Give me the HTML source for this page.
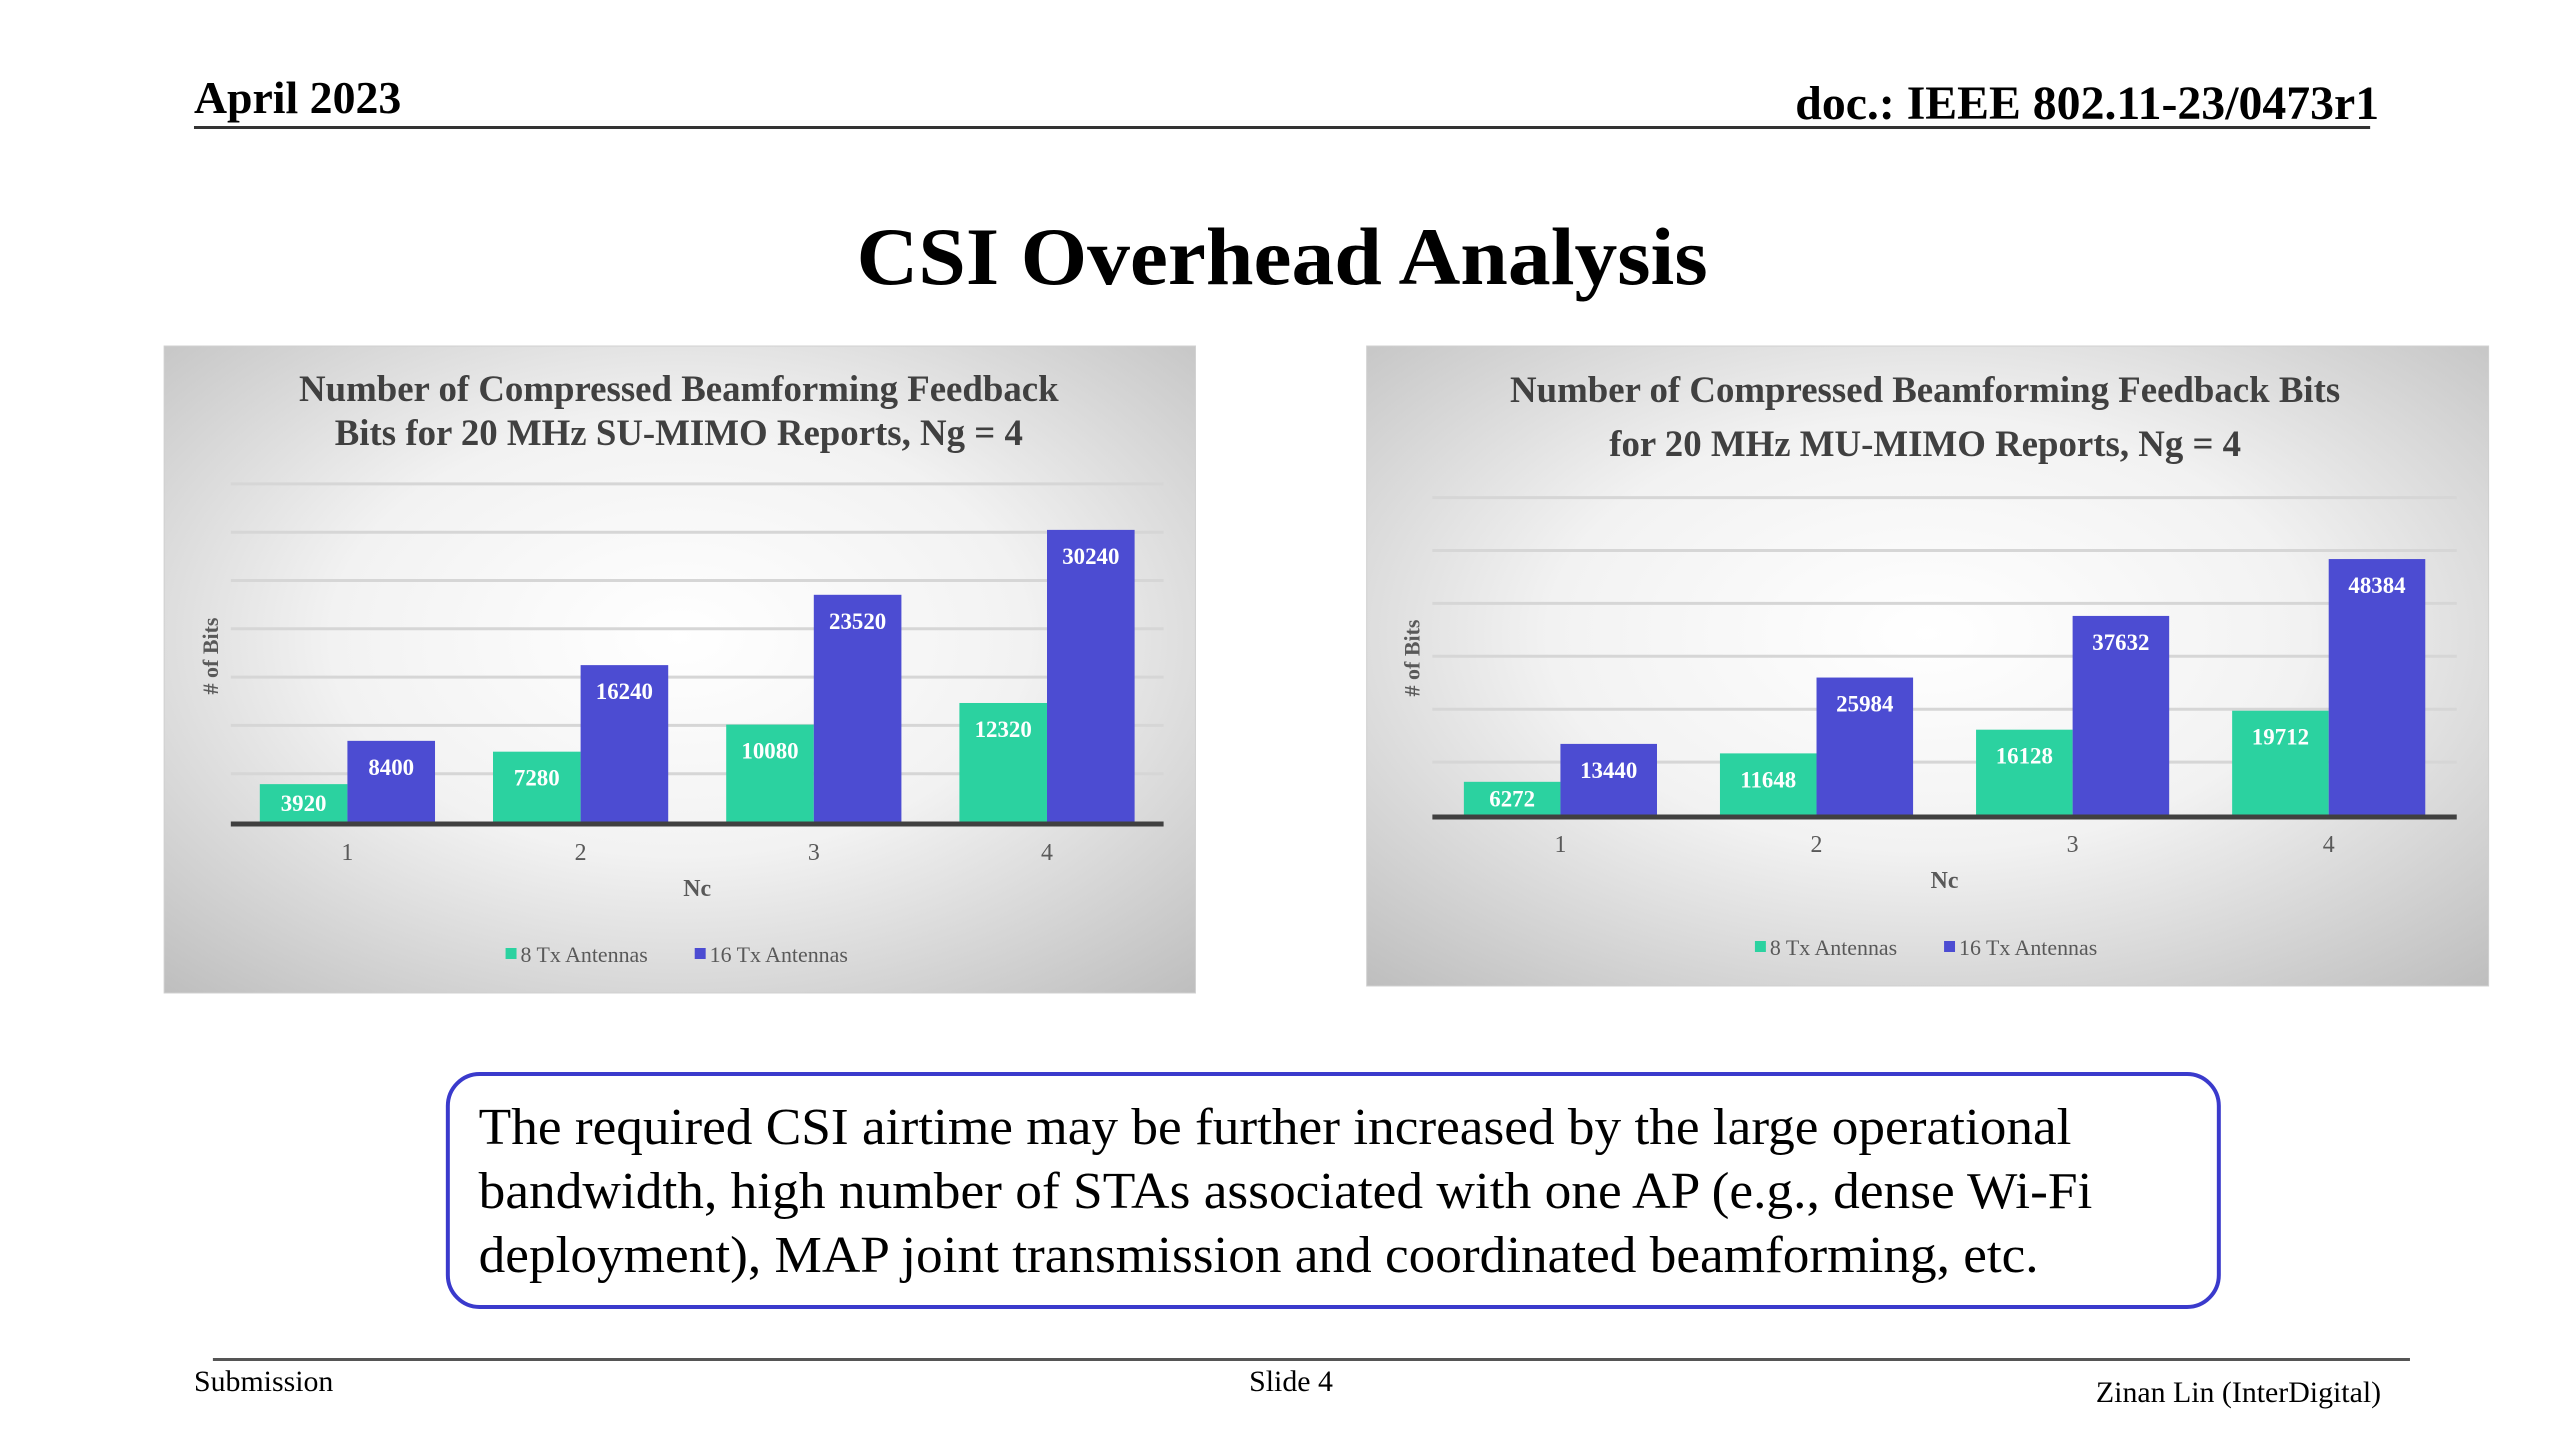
<!DOCTYPE html>
<html><head><meta charset="utf-8"><style>
html,body{margin:0;padding:0;background:#fff;}
svg{display:block;font-family:"Liberation Serif",serif;}
</style></head><body>
<svg id="slide" width="2560" height="1440" viewBox="0 0 2560 1440" xmlns="http://www.w3.org/2000/svg">
<defs>
<radialGradient id="bgL" cx="0.5" cy="0.45" r="0.75">
<stop offset="0" stop-color="#ffffff"/><stop offset="0.45" stop-color="#f2f2f2"/><stop offset="1" stop-color="#bdbdbd"/>
</radialGradient>
</defs>
<g transform="translate(190,0) scale(0.9955,1) translate(-190,0)">
<text x="194" y="113" font-size="46" font-weight="bold">April 2023</text>
<text x="2389" y="119" font-size="48" font-weight="bold" text-anchor="end">doc.: IEEE 802.11-23/0473r1</text>
<rect x="194" y="126" width="2186" height="3" fill="#333"/>
<text x="1287" y="284" font-size="82" font-weight="bold" text-anchor="middle" textLength="855" lengthAdjust="spacingAndGlyphs">CSI Overhead Analysis</text>

<g id="chartL"></g>
<g id="chartR"></g>

<rect x="449" y="1074" width="1779" height="233" rx="32" ry="32" fill="#fff" stroke="#3a3acc" stroke-width="4"/>
<text x="480" y="1144" font-size="52" textLength="1600" lengthAdjust="spacingAndGlyphs">The required CSI airtime may be further increased by the large operational</text>
<text x="480" y="1208" font-size="52" textLength="1621" lengthAdjust="spacingAndGlyphs">bandwidth, high number of STAs associated with one AP (e.g., dense Wi-Fi</text>
<text x="480" y="1272" font-size="52" textLength="1567" lengthAdjust="spacingAndGlyphs">deployment), MAP joint transmission and coordinated beamforming, etc.</text>

<rect x="213" y="1358" width="2207" height="3" fill="#555"/>
<text x="194" y="1391" font-size="30">Submission</text>
<text x="1296" y="1391" font-size="30" text-anchor="middle">Slide 4</text>
<text x="2391" y="1402" font-size="30" text-anchor="end">Zinan Lin (InterDigital)</text>
</g>
</svg>
<script>
const categories = ["1","2","3","4"];
const suTx8 = [3920, 7280, 10080, 12320];
const suTx16 = [8400, 16240, 23520, 30240];
const muTx8 = [6272, 11648, 16128, 19712];
const muTx16 = [13440, 25984, 37632, 48384];
const suGridStep = 5000, suGridMax = 35000;
const muGridStep = 10000, muGridMax = 60000;
const legendLabels = ["8 Tx Antennas","16 Tx Antennas"];
const titlesSU = ["Number of Compressed Beamforming Feedback","Bits for 20 MHz SU-MIMO Reports, Ng = 4"];
const titlesMU = ["Number of Compressed Beamforming Feedback Bits","for 20 MHz MU-MIMO Reports, Ng = 4"];

const NS = "http://www.w3.org/2000/svg";
function mk(parent, tag, attrs, txt){
  const e = document.createElementNS(NS, tag);
  for (const k in attrs) e.setAttribute(k, attrs[k]);
  if (txt !== undefined) e.textContent = txt;
  parent.appendChild(e);
  return e;
}
function drawChart(g, cfg){
  const bg = mk(g,'rect',{x:cfg.box[0],y:cfg.box[1],width:cfg.box[2],height:cfg.box[3],fill:'url(#bgL)',stroke:'#d0d0d0','stroke-width':1});
  
  
  cfg.titles.forEach((t,i)=>{
    const te = mk(g,'text',{x:cfg.titleX, y:cfg.titleY[i], 'font-size':cfg.titleSize,'font-weight':'bold',fill:'#404040','text-anchor':'middle'}, t);
    
    
  });
  const y = v => cfg.y0 - v * cfg.pxPer;
  for (let v = cfg.gridStep; v <= cfg.gridMax; v += cfg.gridStep){
    const gl = mk(g,'line',{x1:cfg.x0,x2:cfg.x1,y1:y(v),y2:y(v),stroke:'#d6d6d6','stroke-width':3});
    
    
  }
  const band = (cfg.x1 - cfg.x0)/categories.length;
  categories.forEach((c,i)=>{
    const center = cfg.x0 + band*(i+0.5);
    [[cfg.s1,'#2bd2a0'],[cfg.s2,'#4c4cd2']].forEach(([arr,col],j)=>{
      const bx = center - cfg.bw + j*cfg.bw;
      const top = y(arr[i]);
      const h = cfg.y0 - top;
      const r = mk(g,'rect',{x:bx,y:top,width:cfg.bw,height:h,fill:col});
      
      
      const ly = top + Math.min(26, h/2) + 8;
      const lt = mk(g,'text',{x:bx+cfg.bw/2,y:ly,'font-size':cfg.valSize,'font-weight':'bold',fill:'#fff','text-anchor':'middle'}, String(arr[i]));
      
      
    });
    const cl = mk(g,'text',{x:center,y:cfg.catY,'font-size':24,fill:'#595959','text-anchor':'middle'}, c);
    
    
  });
  const ax = mk(g,'line',{x1:cfg.x0,x2:cfg.x1,y1:cfg.y0+2,y2:cfg.y0+2,stroke:'#404040','stroke-width':5});
  
  
  const xt = mk(g,'text',{x:(cfg.x0+cfg.x1)/2,y:cfg.ncY,'font-size':24,'font-weight':'bold',fill:'#595959','text-anchor':'middle'}, 'Nc');
  
  
  const yt = mk(g,'text',{x:0,y:0,'font-size':22,'font-weight':'bold',fill:'#595959','text-anchor':'middle',transform:`translate(${cfg.yTitle[0]},${cfg.yTitle[1]}) rotate(-90)`}, '# of Bits');
  
  
  const lx = cfg.legendX;
  const lg = mk(g,'g',{});
  
  
  const s1 = mk(lg,'rect',{x:lx,y:cfg.legendY-14,width:11,height:11,fill:'#2bd2a0'});
  
  
  const t1 = mk(lg,'text',{x:lx+15,y:cfg.legendY,'font-size':22,fill:'#595959'}, legendLabels[0]);
  
  
  const s2 = mk(lg,'rect',{x:lx+190,y:cfg.legendY-14,width:11,height:11,fill:'#4c4cd2'});
  
  
  const t2 = mk(lg,'text',{x:lx+205,y:cfg.legendY,'font-size':22,fill:'#595959'}, legendLabels[1]);
  
  
}
drawChart(document.getElementById('chartL'),{
  box:[164,346,1036,647], titles:titlesSU, titleX:681, titleY:[401,445], titleSize:37,
  x0:231, x1:1168, y0:822, pxPer:48.3/5000, gridStep:suGridStep, gridMax:suGridMax,
  bw:88, s1:suTx8, s2:suTx16, valSize:23, catY:860, ncY:896, yTitle:[218,656],
  legendX:507, legendY:962
});
drawChart(document.getElementById('chartR'),{
  box:[1372,346,1127,640], titles:titlesMU, titleX:1933, titleY:[402,456], titleSize:37,
  x0:1438, x1:2467, y0:815, pxPer:52.9/10000, gridStep:muGridStep, gridMax:muGridMax,
  bw:97, s1:muTx8, s2:muTx16, valSize:23, catY:852, ncY:888, yTitle:[1425,658],
  legendX:1762, legendY:955
});
</script>
</body></html>
